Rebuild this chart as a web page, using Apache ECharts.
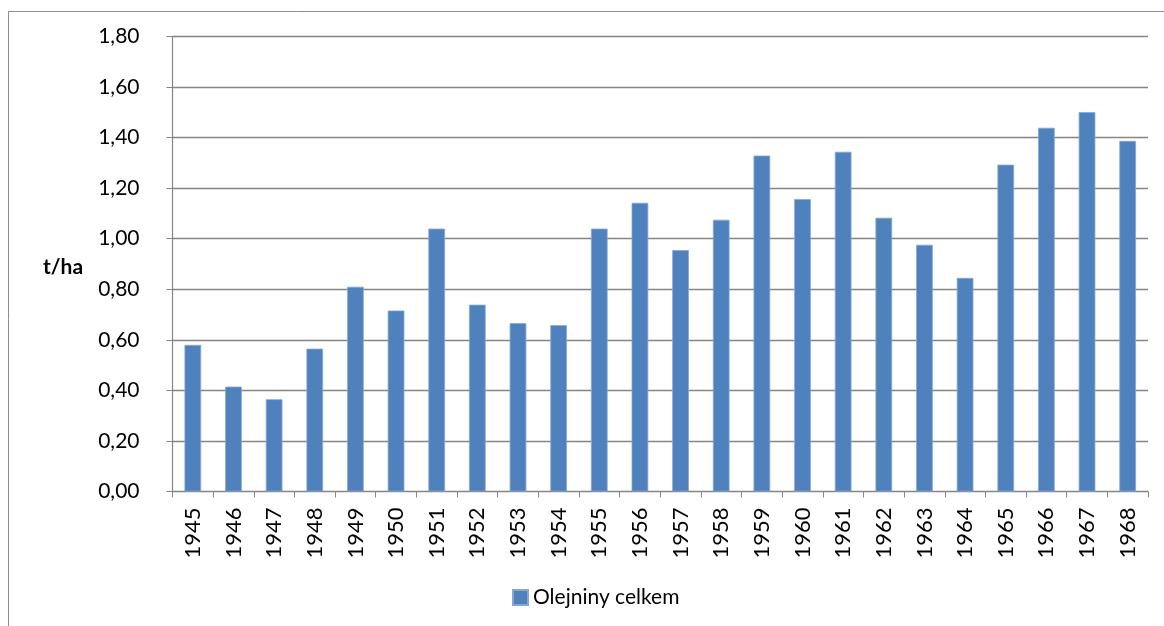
<!DOCTYPE html>
<html>
<head>
<meta charset="utf-8">
<script src="https://cdn.jsdelivr.net/npm/echarts@6/dist/echarts.min.js"></script>
<style>
  html, body { margin: 0; padding: 0; background: #fff; }
  #myChart { width: 1164px; height: 626px; }
</style>
</head>
<body>
<div id="myChart"></div>
<script>
// roky
const years = ['1945', '1946', '1947', '1948', '1949', '1950', '1951', '1952', '1953', '1954', '1955', '1956',
  '1957', '1958', '1959', '1960', '1961', '1962', '1963', '1964', '1965', '1966', '1967', '1968']
// hektarovy vynos, t/ha
const olejninyCelkem = [0.58, 0.415, 0.365, 0.565, 0.81, 0.716, 1.04, 0.739, 0.666, 0.658, 1.04, 1.142,
  0.955, 1.075, 1.329, 1.157, 1.344, 1.083, 0.976, 0.845, 1.293, 1.439, 1.501, 1.387]
const yTicks = { min: 0, max: 1.8, interval: 0.2 }

const font = 'Lato, "Open Sans", sans-serif'
const axisGray = '#858585'

let myChart = echarts.init(document.getElementById('myChart'))
myChart.setOption({
  animation: false,
  backgroundColor: '#fff',
  textStyle: { fontFamily: font },
  grid: { left: 172.5, right: 16, top: 36.5, bottom: 134.5, containLabel: false },
  graphic: [
    {
      type: 'rect',
      silent: true,
      shape: { x: 8.5, y: 11.5, width: 2000, height: 2000 },
      style: { fill: 'none', stroke: '#8c8c8c', lineWidth: 1 }
    },
    {
      type: 'text',
      left: 43,
      top: 257,
      style: { text: 't/ha', font: 'bold 21px ' + font, fill: '#000' }
    }
  ],
  legend: {
    left: 507,
    top: 582,
    icon: 'rect',
    itemWidth: 15,
    itemHeight: 15,
    itemGap: 5,
    textStyle: { fontSize: 21, color: '#000', fontFamily: font },
    data: ['Olejniny celkem']
  },
  xAxis: {
    type: 'category',
    data: years,
    boundaryGap: true,
    axisLine: { lineStyle: { color: axisGray, width: 1.2 } },
    axisTick: { show: true, length: 6, alignWithLabel: false, lineStyle: { color: axisGray } },
    axisLabel: { rotate: 90, margin: 16, fontSize: 22, color: '#000', fontFamily: font, interval: 0 }
  },
  yAxis: {
    type: 'value',
    min: yTicks.min,
    max: yTicks.max,
    interval: yTicks.interval,
    axisLine: { show: true, lineStyle: { color: axisGray, width: 1.2 } },
    axisTick: { show: true, length: 6, lineStyle: { color: axisGray } },
    axisLabel: {
      margin: 33,
      fontSize: 21,
      color: '#000',
      fontFamily: font,
      formatter: v => v.toFixed(2).replace('.', ',')
    },
    splitLine: { show: true, lineStyle: { color: axisGray, width: 1.3 } }
  },
  series: [
    {
      name: 'Olejniny celkem',
      type: 'bar',
      data: olejninyCelkem,
      barWidth: '41%',
      itemStyle: { color: '#4f81bd', borderColor: '#86a7d4', borderWidth: 0.8 }
    }
  ]
})
</script>
</body>
</html>
